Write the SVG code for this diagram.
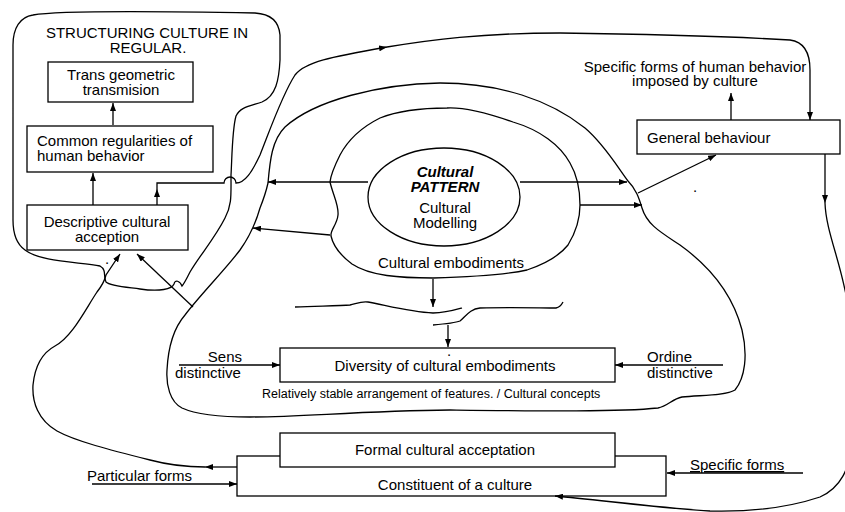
<svg xmlns="http://www.w3.org/2000/svg" width="845" height="512" viewBox="0 0 845 512">
<style>
.l{fill:none;stroke:#000;stroke-width:1.3}
.b{fill:#fff;stroke:#000;stroke-width:1.3}
.a{fill:none;stroke:#000;stroke-width:1.3;marker-end:url(#ah)}
text{font-family:"Liberation Sans",Arial,sans-serif;font-size:15px;fill:#000}
.m{text-anchor:middle}
.bi{font-weight:bold;font-style:italic}
.s{font-size:12.5px}
</style>
<defs>
<marker id="ah" viewBox="0 0 8 6" refX="8" refY="3" markerWidth="8" markerHeight="6" markerUnits="userSpaceOnUse" orient="auto">
<path d="M0,0 L8,3 L0,6 z" fill="#000"/>
</marker>
</defs>
<rect width="845" height="512" fill="#fff"/>

<g id="regions">
<path id="blob" class="l" d="M33,15 C60,10 200,12 255,13 C272,14 279,22 280,35 L280,60 C279,80 276,96 262,102 C250,106 240,107 236,116 C232,130 232,160 231,175 C231,195 232,205 225,218 C215,238 200,255 190,272 C186,280 184,284 182,286 C180,281 175,279 174,284 C172,289 160,292 140,289 C125,287 110,286 106,282 C103,276 107,270 100,266 C80,262 40,262 25,250 C15,243 13,232 13,220 L13,45 C13,28 20,17 33,15 Z"/>
<path id="middle-region" class="l" d="M268,183 C270,160 272,140 285,127 C315,100 380,84 440,83 C500,83 550,100 585,128 C605,145 618,168 628,181 C636,189 639,198 642,208 C647,225 662,233 680,245 C712,268 733,295 742,330 C748,355 745,378 735,390 C725,396 700,395 682,397 C672,399 668,406 658,408 C620,412 540,411 450,410 C360,411 300,417 250,417 C220,417 195,414 182,408 C170,402 166,385 167,370 C168,350 172,330 185,315 C200,295 225,270 240,250 C250,236 256,222 260,208 C264,198 266,192 268,183 Z"/>
<path id="inner-region" class="l" d="M330,182 C333,195 339,205 338,215 C337,225 330,230 331,236 C333,245 340,255 352,264 C370,276 400,278 433,278 C470,277 505,275 527,270 C545,264 560,255 568,245 C576,232 580,218 580,205 C580,190 577,175 570,163 C560,145 540,130 513,122 C490,114 465,107 447,108 C420,108 395,112 380,118 C360,128 348,140 340,155 C335,165 331,173 330,182 Z"/>
</g>

<g id="title">
<text class="m" x="147" y="38">STRUCTURING CULTURE IN</text>
<text class="m" x="148" y="53">REGULAR.</text>
</g>

<g id="n-trans">
<rect class="b" x="48" y="62" width="145" height="40"/>
<text class="m" x="121" y="80">Trans geometric</text>
<text class="m" x="121" y="95">transmision</text>
</g>

<g id="n-common">
<rect class="b" x="27" y="126" width="186" height="46"/>
<text x="37" y="146">Common regularities of</text>
<text x="37" y="161">human behavior</text>
</g>

<g id="n-descriptive">
<rect class="b" x="27" y="205" width="161" height="45"/>
<text class="m" x="107" y="227">Descriptive cultural</text>
<text class="m" x="107" y="242">acception</text>
</g>

<g id="n-pattern">
<ellipse class="b" cx="444" cy="197" rx="76" ry="49"/>
<text class="m bi" x="445" y="177">Cultural</text>
<text class="m bi" x="445" y="192">PATTERN</text>
<text class="m" x="445" y="213">Cultural</text>
<text class="m" x="445" y="228">Modelling</text>
</g>

<g id="n-embodiments-label">
<text x="378" y="268">Cultural embodiments</text>
</g>

<g id="n-general">
<rect class="b" x="637" y="120" width="203" height="34"/>
<text x="647" y="143">General behaviour</text>
</g>

<g id="n-specific-top">
<text class="m" x="695" y="72">Specific forms of human behavior</text>
<text class="m" x="695" y="86">imposed by culture</text>
</g>

<g id="n-diversity">
<rect class="b" x="280" y="348" width="335" height="34"/>
<text class="m" x="445" y="371">Diversity of cultural embodiments</text>
<text x="447" y="356" font-size="10">.</text>
</g>

<g id="n-relatively">
<text class="s" x="262" y="398">Relatively stable arrangement of features. / Cultural concepts</text>
</g>

<g id="n-sens">
<text x="242" y="362" text-anchor="end">Sens</text>
<text x="175" y="378">distinctive</text>
</g>

<g id="n-ordine">
<text x="647" y="362">Ordine</text>
<text x="647" y="378">distinctive</text>
</g>

<g id="n-constituent">
<rect class="b" x="237" y="456" width="429" height="40"/>
<text class="m" x="455" y="490">Constituent of a culture</text>
</g>

<g id="n-formal">
<rect class="b" x="280" y="433" width="335" height="34"/>
<text class="m" x="445" y="455">Formal cultural acceptation</text>
</g>

<g id="n-particular">
<text x="87" y="481">Particular forms</text>
</g>

<g id="n-specific-forms">
<text x="690" y="470" text-decoration="underline">Specific forms</text>
</g>

<g id="dots">
<text x="105" y="264" font-size="10">.</text>
<text x="693" y="192" font-size="10">.</text>
</g>

<g id="connectors">
<path class="a" d="M113,125 L113,103"/>
<path class="a" d="M93,205 L93,173"/>
<path class="a" d="M157,205 L157,189"/>
<path class="a" d="M157,189 L157,183 L224,183 A6,6 0 0 1 236,183 C245,183 252,172 260,155 C270,130 282,95 295,75 C305,62 330,57 387,47"/>
<path class="a" d="M387,47 C430,40 480,33 560,33 C640,34 740,37 790,40 C805,42 810,55 810,70 L810,120"/>
<path class="a" d="M368,182 L268,182"/>
<path class="a" d="M330,235 L253,228"/>
<path class="a" d="M520,182 L627,182"/>
<path class="a" d="M580,205 L642,205"/>
<path class="a" d="M638,193 L716,155"/>
<path class="a" d="M731,120 L731,93"/>
<path class="a" d="M825,154 L825,203"/>
<path class="a" d="M825,203 C826,235 845,270 850,320 L852,440 C850,470 840,488 820,497 C790,507 750,512 710,511 C660,508 600,500 555,496"/>
<path class="a" d="M433,279 L433,307"/>
<path class="l" d="M295,307 C320,306 340,306 350,305 C358,303 362,301 368,302 C385,305 410,312 433,313 C445,313 455,310 462,308"/>
<path class="l" d="M433,325 C445,324 455,323 460,321 C466,316 470,309 480,308 C510,307 540,308 556,308 C560,307 562,304 563,302"/>
<path class="a" d="M448,325 L448,347"/>
<path class="a" d="M179,365 L280,365"/>
<path class="a" d="M723,365 L615,365"/>
<path class="a" d="M237,467 L205,467"/>
<path class="a" d="M205,467 C180,467 165,464 150,460 C110,450 75,441 57,431 C38,420 32,402 33,385 C35,365 42,353 55,346 C72,337 85,310 97,292 C101,287 104,283 106,275 L120,254"/>
<path class="a" d="M193,307 L137,254"/>
<path class="a" d="M92,484 L237,484"/>
<path class="a" d="M803,473 L667,473"/>
</g>
</svg>
